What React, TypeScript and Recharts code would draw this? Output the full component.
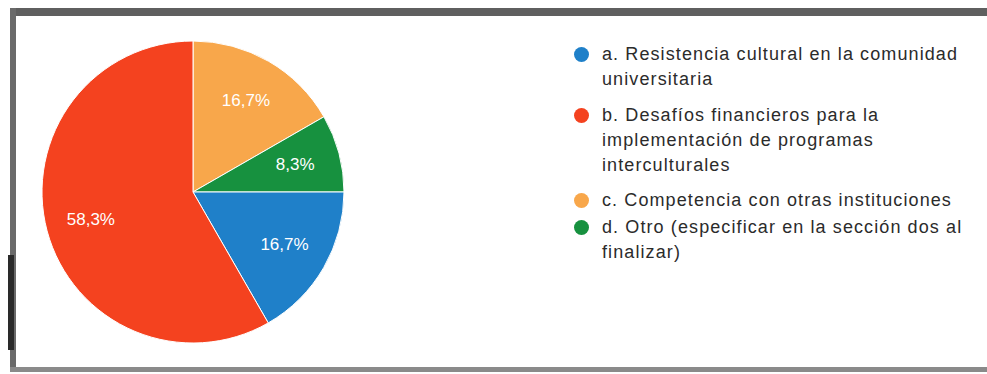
import React from "react";
import { PieChart, Pie, Cell } from "recharts";

// Slice order as drawn clockwise from 12 o'clock
const sliceNames = ["c", "d", "a", "b"];
const sliceValues = [16.7, 8.3, 16.7, 58.3];
const sliceColors = ["#f8a74b", "#17913f", "#1f80c9", "#f4421f"];

// Legend order
const legendLabels = [
  "a. Resistencia cultural en la comunidad universitaria",
  "b. Desafíos financieros para la implementación de programas interculturales",
  "c. Competencia con otras instituciones",
  "d. Otro (especificar en la sección dos al finalizar)",
];
const legendColors = ["#1f80c9", "#f4421f", "#f8a74b", "#17913f"];

const data = sliceNames.map((n, i) => ({ name: n, value: sliceValues[i] }));

const RAD = Math.PI / 180;
const renderLabel = (props: any) => {
  const { cx, cy, midAngle, outerRadius, value } = props;
  const r = outerRadius * 0.7;
  const x = cx + r * Math.cos(-midAngle * RAD);
  const y = cy + r * Math.sin(-midAngle * RAD);
  return (
    <text
      x={x}
      y={y}
      fill="#ffffff"
      textAnchor="middle"
      dominantBaseline="central"
      fontFamily="Liberation Sans, Arial, sans-serif"
      fontSize={17}
    >
      {value.toFixed(1).replace(".", ",") + "%"}
    </text>
  );
};

const legendTops = [42, 103, 188, 215];

export default function App() {
  return (
    <div
      style={{
        position: "absolute",
        left: 0,
        top: 0,
        width: 987,
        height: 374,
        background: "#ffffff",
        overflow: "hidden",
        fontFamily: "Liberation Sans, Arial, sans-serif",
      }}
    >
      {/* scanned frame */}
      <div style={{ position: "absolute", left: 10, top: 8, width: 977, height: 8, background: "#5f5f5f" }} />
      <div style={{ position: "absolute", left: 10, top: 8, width: 6, height: 364, background: "#6a6a6a" }} />
      <div style={{ position: "absolute", left: 8, top: 255, width: 6, height: 95, background: "#2a2a2a" }} />
      <div style={{ position: "absolute", left: 10, top: 367, width: 977, height: 5, background: "#8a8a8a" }} />

      <div style={{ position: "absolute", left: 0, top: 0 }}>
        <PieChart width={987} height={374}>
          <Pie
            data={data}
            dataKey="value"
            nameKey="name"
            cx={188}
            cy={187}
            outerRadius={151}
            startAngle={90}
            endAngle={-270}
            stroke="#ffffff"
            strokeWidth={1}
            label={renderLabel}
            labelLine={false}
            isAnimationActive={false}
          >
            {data.map((d, i) => (
              <Cell key={d.name} fill={sliceColors[i]} />
            ))}
          </Pie>
        </PieChart>
      </div>

      {legendLabels.map((lab, i) => (
        <div
          key={lab}
          style={{
            position: "absolute",
            left: 574,
            top: legendTops[i],
            width: 410,
            display: "flex",
            alignItems: "flex-start",
          }}
        >
          <div
            style={{
              width: 15,
              height: 15,
              borderRadius: "50%",
              background: legendColors[i],
              marginTop: 5,
              flex: "none",
            }}
          />
          <div
            style={{
              marginLeft: 13,
              width: 368,
              fontSize: 18,
              letterSpacing: "1.1px",
              lineHeight: "25px",
              color: "#2b2b2b",
            }}
          >
            {lab}
          </div>
        </div>
      ))}
    </div>
  );
}
